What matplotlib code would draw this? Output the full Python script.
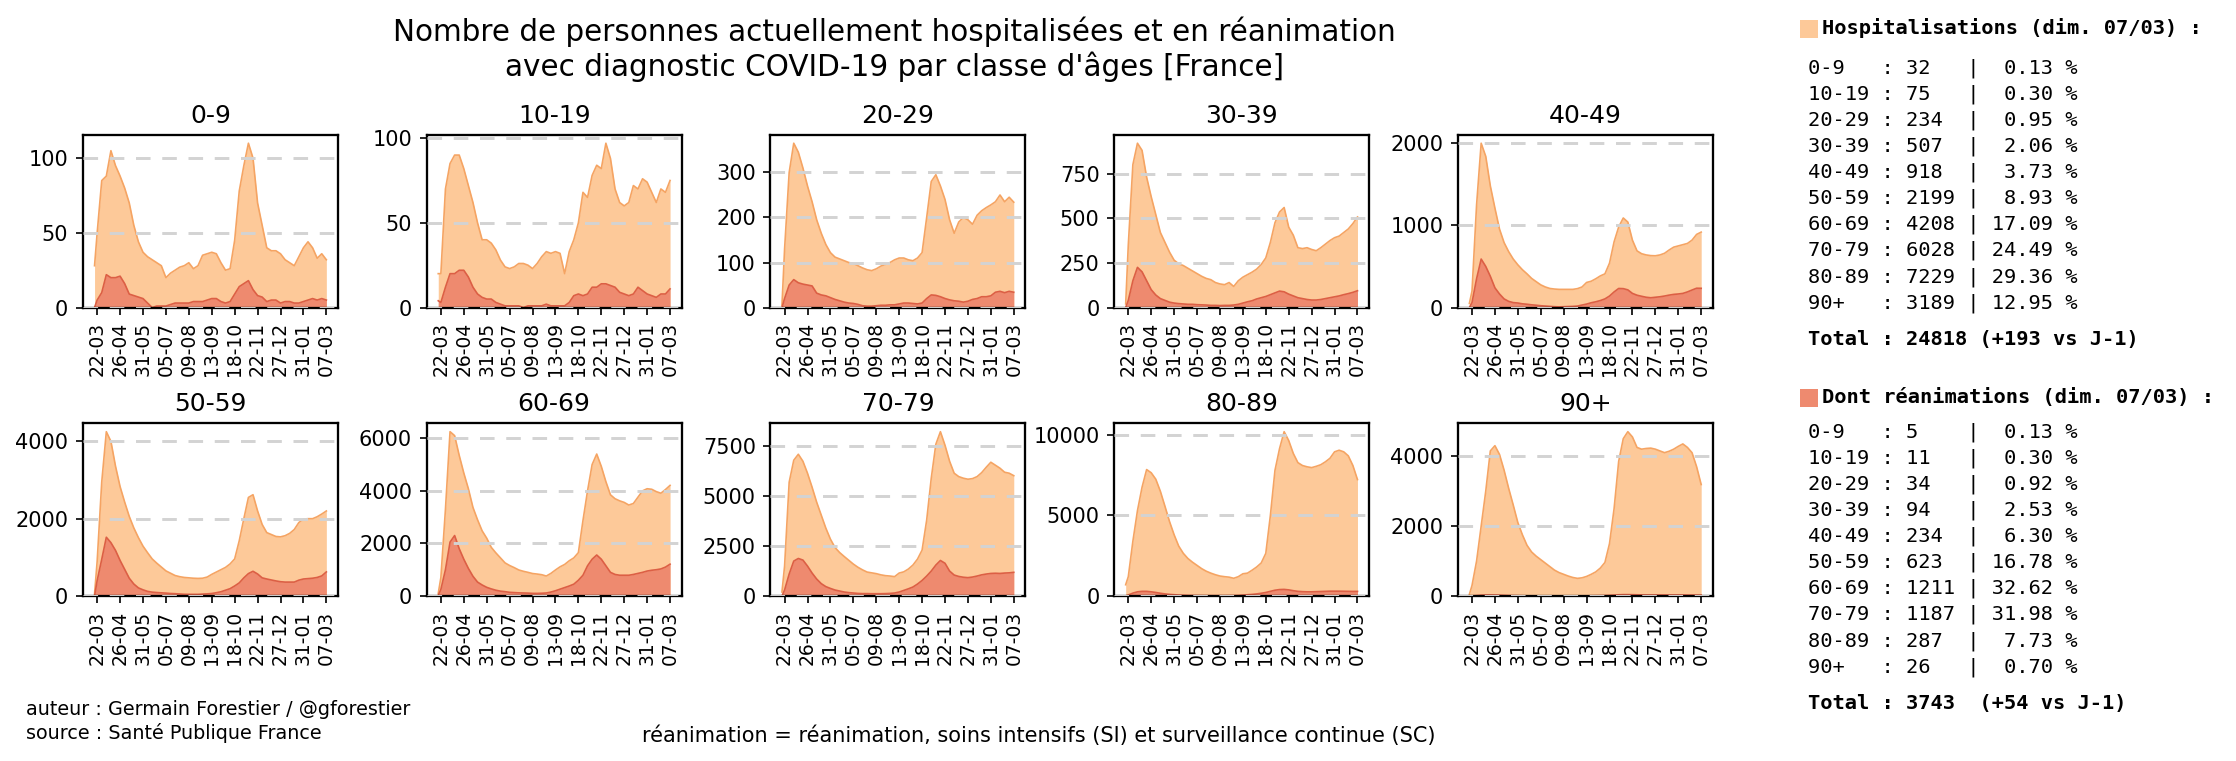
import matplotlib
matplotlib.use("Agg")
import matplotlib.pyplot as plt
import matplotlib.dates as mdates
from matplotlib.patches import Rectangle
import numpy as np
import pandas as pd

# dates : first day of data, then every Sunday up to 07-03-2021
dates = pd.to_datetime(["2020-03-18"] + list(pd.date_range("2020-03-22", "2021-03-07", freq="7D").strftime("%Y-%m-%d")))

ages = ['0-9', '10-19', '20-29', '30-39', '40-49', '50-59', '60-69', '70-79', '80-89', '90+']

hosp_0_9 = [28, 50, 85, 88, 105, 95, 88, 80, 70, 55, 44, 37, 34,
            32, 30, 28, 20, 23, 25, 27, 28, 30, 26, 28, 35, 36,
            37, 36, 30, 25, 26, 45, 78, 95, 110, 100, 70, 55, 40,
            38, 38, 36, 32, 30, 28, 34, 40, 44, 40, 33, 36, 32]
rea_0_9 = [0, 5, 10, 22, 20, 20, 21, 16, 9, 8, 7, 6, 3,
           0, 1, 1, 1, 2, 3, 3, 3, 3, 4, 4, 4, 5,
           6, 6, 4, 3, 4, 9, 14, 16, 18, 12, 8, 7, 4,
           5, 5, 3, 4, 4, 3, 3, 4, 5, 6, 5, 6, 5]

hosp_10_19 = [20, 20, 70, 85, 90, 90, 82, 72, 62, 50, 40, 40, 38,
              34, 28, 24, 23, 24, 26, 26, 25, 23, 26, 30, 33, 32,
              33, 32, 20, 33, 40, 50, 68, 65, 78, 84, 82, 97, 88,
              70, 62, 60, 62, 72, 70, 76, 74, 68, 62, 70, 68, 75]
rea_10_19 = [4, 3, 12, 20, 20, 22, 22, 18, 12, 8, 6, 5, 5,
             3, 2, 1, 1, 1, 1, 0, 1, 1, 1, 1, 2, 1,
             1, 1, 1, 3, 7, 8, 7, 8, 12, 12, 14, 14, 13,
             12, 9, 8, 7, 8, 12, 10, 8, 7, 6, 8, 8, 11]

hosp_20_29 = [5, 130, 300, 365, 345, 310, 270, 235, 195, 165, 140, 122, 112,
              108, 104, 100, 98, 93, 88, 84, 82, 86, 92, 96, 100, 106,
              110, 110, 106, 104, 110, 122, 200, 280, 295, 270, 240, 195, 165,
              190, 200, 195, 185, 205, 215, 222, 228, 235, 250, 235, 245, 234]
rea_20_29 = [0, 20, 50, 62, 55, 52, 50, 48, 32, 28, 26, 22, 18,
             15, 12, 10, 9, 7, 4, 3, 3, 4, 5, 5, 6, 6,
             8, 10, 10, 9, 8, 10, 20, 28, 27, 24, 20, 17, 15,
             14, 12, 14, 18, 20, 24, 24, 26, 34, 36, 33, 36, 34]

hosp_30_39 = [20, 350, 800, 920, 880, 730, 620, 520, 420, 365, 310, 265, 245,
              235, 220, 205, 190, 175, 163, 156, 140, 132, 128, 140, 118, 150,
              170, 184, 198, 215, 241, 278, 365, 475, 535, 560, 450, 405, 335,
              330, 335, 325, 318, 335, 355, 375, 391, 400, 420, 440, 470, 507]
rea_30_39 = [0, 40, 150, 225, 200, 150, 100, 70, 50, 40, 30, 25, 22,
             20, 18, 18, 16, 15, 14, 12, 12, 11, 12, 12, 14, 18,
             25, 32, 38, 48, 55, 62, 72, 82, 92, 88, 75, 65, 55,
             50, 45, 42, 42, 45, 50, 55, 60, 65, 72, 78, 85, 94]

hosp_40_49 = [50, 200, 1250, 2000, 1840, 1480, 1210, 955, 790, 680, 590, 520, 460,
              410, 355, 315, 276, 250, 232, 225, 221, 221, 221, 221, 230, 250,
              305, 320, 350, 385, 410, 540, 800, 980, 1090, 1040, 820, 690, 655,
              640, 632, 630, 640, 660, 700, 735, 750, 765, 780, 820, 890, 918]
rea_40_49 = [0, 60, 350, 590, 500, 380, 240, 165, 105, 75, 60, 55, 45,
             40, 33, 28, 22, 18, 14, 10, 8, 10, 12, 14, 18, 30,
             42, 58, 70, 85, 105, 140, 190, 232, 230, 215, 172, 150, 137,
             125, 119, 125, 131, 140, 151, 160, 165, 172, 190, 213, 235, 234]

hosp_50_59 = [50, 900, 2950, 4250, 4000, 3360, 2830, 2430, 2060, 1760, 1510, 1290, 1120,
              960, 850, 750, 650, 590, 530, 500, 480, 470, 460, 455, 460, 490,
              560, 620, 680, 740, 830, 960, 1430, 2000, 2550, 2620, 2200, 1850, 1640,
              1590, 1540, 1530, 1560, 1620, 1720, 1900, 1990, 2000, 2000, 2050, 2120, 2199]
rea_50_59 = [0, 400, 950, 1520, 1380, 1180, 920, 690, 460, 310, 210, 160, 120,
             100, 90, 82, 75, 65, 60, 52, 45, 43, 43, 43, 50, 55,
             65, 85, 110, 150, 190, 260, 340, 470, 580, 640, 570, 470, 440,
             415, 390, 370, 360, 360, 360, 410, 440, 450, 460, 480, 520, 623]

hosp_60_69 = [100, 700, 3300, 6250, 6100, 5350, 4680, 4080, 3370, 2900, 2480, 2200, 1850,
              1640, 1450, 1260, 1160, 1080, 990, 940, 900, 855, 835, 810, 760, 860,
              990, 1110, 1200, 1340, 1450, 1650, 2870, 4000, 5000, 5400, 4930, 4350, 3850,
              3700, 3620, 3560, 3460, 3520, 3760, 4000, 4080, 4060, 3970, 3910, 4050, 4208]
rea_60_69 = [30, 250, 1000, 2050, 2300, 1800, 1400, 1050, 750, 530, 420, 330, 270,
             220, 185, 165, 140, 130, 120, 115, 110, 100, 100, 105, 115, 150,
             200, 260, 320, 380, 450, 600, 790, 1150, 1400, 1560, 1400, 1150, 900,
             820, 790, 790, 790, 820, 860, 900, 950, 980, 1000, 1030, 1100, 1211]

hosp_70_79 = [200, 1500, 5700, 6800, 7100, 6750, 6150, 5450, 4700, 4050, 3400, 2850, 2430,
              2180, 1980, 1790, 1600, 1440, 1310, 1200, 1160, 1120, 1060, 1020, 1000, 970,
              1150, 1210, 1350, 1550, 1850, 2300, 3800, 5900, 7600, 8230, 7550, 6750, 6150,
              5980, 5900, 5850, 5880, 5980, 6180, 6450, 6700, 6550, 6400, 6200, 6150, 6028]
rea_70_79 = [0, 300, 1100, 1750, 1880, 1800, 1500, 1150, 850, 620, 470, 380, 300,
             250, 200, 170, 150, 130, 120, 120, 115, 115, 115, 120, 130, 150,
             200, 280, 360, 450, 600, 780, 1000, 1250, 1550, 1780, 1640, 1250, 1050,
             980, 940, 920, 950, 1000, 1060, 1100, 1130, 1140, 1130, 1150, 1160, 1187]

hosp_80_89 = [700, 1200, 3400, 5300, 6750, 7850, 7650, 7250, 6500, 5570, 4620, 3800, 3100,
              2650, 2330, 2100, 1900, 1700, 1540, 1420, 1320, 1240, 1200, 1170, 1100, 1200,
              1380, 1420, 1600, 1800, 2050, 2650, 5000, 7800, 9150, 10200, 9650, 8850, 8280,
              8100, 8020, 7970, 8050, 8150, 8330, 8550, 8950, 9050, 8950, 8700, 8100, 7229]
rea_80_89 = [10, 60, 180, 260, 290, 290, 260, 220, 170, 130, 100, 80, 60,
             50, 40, 35, 30, 28, 25, 25, 25, 25, 25, 28, 30, 40,
             60, 80, 100, 130, 170, 220, 290, 360, 400, 410, 380, 330, 290,
             270, 260, 260, 270, 280, 290, 300, 300, 300, 295, 290, 285, 287]

hosp_90 = [50, 300, 1000, 2000, 3000, 4150, 4300, 4050, 3600, 3080, 2600, 2100, 1750,
           1450, 1260, 1140, 1040, 940, 840, 740, 670, 620, 570, 530, 505, 520,
           560, 620, 690, 800, 960, 1500, 2500, 3850, 4500, 4700, 4550, 4250, 4200,
           4220, 4230, 4200, 4150, 4100, 4140, 4200, 4280, 4350, 4250, 4100, 3700, 3189]
rea_90 = [0, 5, 15, 25, 30, 30, 28, 25, 20, 15, 12, 10, 8,
          6, 5, 5, 4, 4, 4, 4, 4, 4, 4, 4, 4, 5,
          6, 8, 10, 12, 15, 20, 28, 35, 40, 40, 38, 35, 32,
          30, 30, 30, 30, 30, 30, 30, 30, 30, 28, 28, 27, 26]

hosp = [hosp_0_9, hosp_10_19, hosp_20_29, hosp_30_39, hosp_40_49,
        hosp_50_59, hosp_60_69, hosp_70_79, hosp_80_89, hosp_90]
rea = [rea_0_9, rea_10_19, rea_20_29, rea_30_39, rea_40_49,
       rea_50_59, rea_60_69, rea_70_79, rea_80_89, rea_90]

total_hosp, diff_hosp = 24818, 193
total_rea, diff_rea = 3743, 54

HOSP_FILL, HOSP_EDGE = '#fdc999', '#f5a463'
REA_FILL, REA_EDGE = '#ee8a6f', '#dc5f45'

fig = plt.figure(figsize=(2236 / 150, 761 / 150), dpi=150)
axes = fig.subplots(2, 5)
fig.subplots_adjust(left=0.0371, right=0.766, bottom=0.2168, top=0.8226, wspace=0.348, hspace=0.672)

tick_dates = dates[1::5]

for i, ax in enumerate(axes.flat):
    ax.fill_between(dates, hosp[i], color=HOSP_FILL, lw=0, zorder=1)
    ax.plot(dates, hosp[i], color=HOSP_EDGE, lw=0.8, zorder=1.1)
    ax.fill_between(dates, rea[i], color=REA_FILL, lw=0, zorder=1.2)
    ax.plot(dates, rea[i], color=REA_EDGE, lw=0.8, zorder=1.3)
    ax.set_ylim(bottom=0)
    ax.set_axisbelow(False)
    ax.yaxis.grid(True, ls='--', color='#d3d3d3', lw=1.4, dashes=(5, 4))
    ax.set_xticks(tick_dates)
    ax.xaxis.set_major_formatter(mdates.DateFormatter('%d-%m'))
    ax.tick_params(axis='x', labelrotation=90, labelsize=9)
    ax.tick_params(axis='y', labelsize=10)
    for s in ax.spines.values():
        s.set_linewidth(1.1)
    ax.set_title(ages[i], fontsize=12)

fig.text(0.40, 0.935, "Nombre de personnes actuellement hospitalisées et en réanimation\n"
         "avec diagnostic COVID-19 par classe d'âges [France]",
         ha='center', va='center', fontsize=14.2)

fig.text(0.0116, 0.052, "auteur : Germain Forestier / @gforestier\nsource : Santé Publique France",
         ha='left', va='center', fontsize=9.2)
fig.text(0.287, 0.033, "réanimation = réanimation, soins intensifs (SI) et surveillance continue (SC)",
         ha='left', va='center', fontsize=10)

# texte de droite
W, H = 2236, 761
mono = 'DejaVu Sans Mono'
fs = 9.8


def block(title, color, values, total, diff, y_head, y_rows, y_total):
    fig.add_artist(Rectangle((1800 / W, 1 - (y_head + 9) / H), 18 / W, 18 / H,
                             transform=fig.transFigure, color=color, lw=0))
    fig.text(1822 / W, 1 - y_head / H, title, family=mono, fontsize=fs,
             fontweight='bold', va='center', ha='left')
    s = sum(values)
    for j, (a, v) in enumerate(zip(ages, values)):
        line = f"{a:<6}: {v:<4} | {100 * v / s:>5.2f} %"
        fig.text(1808 / W, 1 - (y_rows + 26.1 * j) / H, line, family=mono,
                 fontsize=fs, va='center', ha='left')
    fig.text(1808 / W, 1 - y_total / H, f"Total : {total:<5} ({diff:+d} vs J-1)",
             family=mono, fontsize=fs, fontweight='bold', va='center', ha='left')


block("Hospitalisations (dim. 07/03) :", HOSP_FILL, [h[-1] for h in hosp],
      total_hosp, diff_hosp, 28.5, 68, 339)
block("Dont réanimations (dim. 07/03) :", REA_FILL, [r[-1] for r in rea],
      total_rea, diff_rea, 398, 432, 703)

fig.savefig('out.png', dpi=150)
